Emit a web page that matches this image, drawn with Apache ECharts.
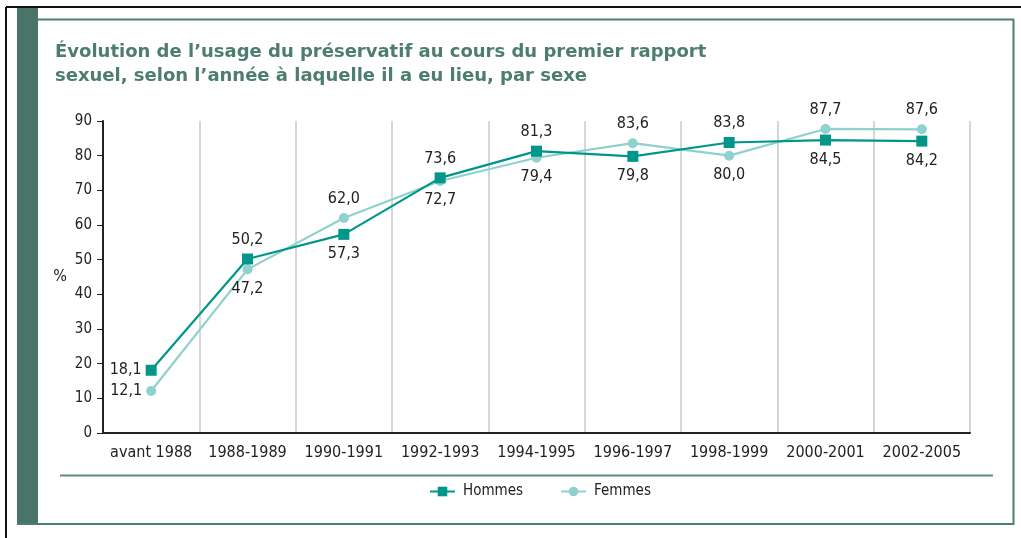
<!DOCTYPE html>
<html>
<head>
<meta charset="utf-8">
<script src="https://cdn.jsdelivr.net/npm/echarts@6/dist/echarts.min.js"></script>
<style>
html,body{margin:0;padding:0;background:#fff;}
#c{width:1021px;height:538px;}
</style>
</head>
<body>
<div id="c"></div>
<script>
const categories = ['avant 1988','1988-1989','1990-1991','1992-1993','1994-1995','1996-1997','1998-1999','2000-2001','2002-2005'];
const hommes = [18.1, 50.2, 57.3, 73.6, 81.3, 79.8, 83.8, 84.5, 84.2];
const femmes = [12.1, 47.2, 62.0, 72.7, 79.4, 83.6, 80.0, 87.7, 87.6];
const yTicks = [0,10,20,30,40,50,60,70,80,90];
const titleLines = ['Évolution de l\u2019usage du préservatif au cours du premier rapport', 'sexuel, selon l\u2019année à laquelle il a eu lieu, par sexe'];

const hPos = ['left','top','bottom','top','top','bottom','top','bottom','bottom'];
const fPos = ['left','bottom','top','bottom','bottom','top','bottom','top','top'];
const FONT = '"Liberation Sans Narrow", "DejaVu Sans Condensed", sans-serif';
const fmt = p => p.value.toFixed(1).replace('.', ',');

function mk(values, pos){
  return values.map((v,i)=>({value:v, label:{position:pos[i], distance: pos[i]==='left' ? 4 : 6}}));
}

const chart = echarts.init(document.getElementById('c'), null, {renderer:'canvas'});
chart.setOption({
  animation:false,
  backgroundColor:'#fff',
  graphic:[
    {type:'line', shape:{x1:6,y1:7,x2:1021,y2:7}, style:{stroke:'#111', lineWidth:2}},
    {type:'line', shape:{x1:6,y1:7,x2:6,y2:538}, style:{stroke:'#111', lineWidth:2}},
    {type:'rect', shape:{x:17,y:8,width:21,height:517}, style:{fill:'#4a7468'}},
    {type:'line', shape:{x1:38,y1:19.5,x2:1014,y2:19.5}, style:{stroke:'#4f7d72', lineWidth:2}},
    {type:'line', shape:{x1:1013.5,y1:19,x2:1013.5,y2:525}, style:{stroke:'#4f7d72', lineWidth:2}},
    {type:'line', shape:{x1:17,y1:524,x2:1014,y2:524}, style:{stroke:'#4f7d72', lineWidth:2}},
    {type:'line', shape:{x1:60,y1:475.5,x2:993,y2:475.5}, style:{stroke:'#5e8a80', lineWidth:2}},
    {type:'text', left:55, top:40, style:{text:titleLines.join('\n'), fill:'#4d7c70', font:'bold 18px "DejaVu Sans", sans-serif', lineHeight:24}}
  ],
  grid:{left:103, right:51, top:121, bottom:105},
  legend:{
    bottom:34, left:424, itemGap:37, itemWidth:25, itemHeight:12,
    textStyle:{fontFamily:FONT, fontSize:15, color:'#222', padding:[0,0,0,3]},
    data:['Hommes','Femmes']
  },
  xAxis:{
    type:'category', data:categories, boundaryGap:true,
    axisLine:{lineStyle:{color:'#222', width:2}},
    axisTick:{show:false},
    axisLabel:{fontFamily:FONT, fontSize:16, color:'#222', margin:12, interval:0},
    splitLine:{show:true, interval:0, lineStyle:{color:'#c8c8c8', width:1.5}}
  },
  yAxis:{
    type:'value', min:0, max:90, interval:10,
    name:'%', nameLocation:'middle', nameRotate:0, nameGap:36,
    nameTextStyle:{fontFamily:FONT, fontSize:16, color:'#222'},
    axisLine:{show:true, lineStyle:{color:'#222', width:2}},
    axisTick:{show:true, length:6, lineStyle:{color:'#222'}},
    axisLabel:{fontFamily:FONT, fontSize:15, color:'#222', margin:11, formatter:v=>yTicks.includes(v)?String(v):''},
    splitLine:{show:false}
  },
  series:[
    {
      name:'Hommes', type:'line', data:mk(hommes,hPos),
      symbol:'rect', symbolSize:11, color:'#00968a',
      lineStyle:{width:2.2, color:'#00968a'},
      itemStyle:{color:'#00968a'},
      label:{show:true, formatter:fmt, fontFamily:FONT, fontSize:16, color:'#222'},
      z:3
    },
    {
      name:'Femmes', type:'line', data:mk(femmes,fPos),
      symbol:'circle', symbolSize:10, color:'#8fd1cc',
      lineStyle:{width:2.2, color:'#8fd1cc'},
      itemStyle:{color:'#8fd1cc'},
      label:{show:true, formatter:fmt, fontFamily:FONT, fontSize:16, color:'#222'},
      z:2
    }
  ]
});
</script>
</body>
</html>
